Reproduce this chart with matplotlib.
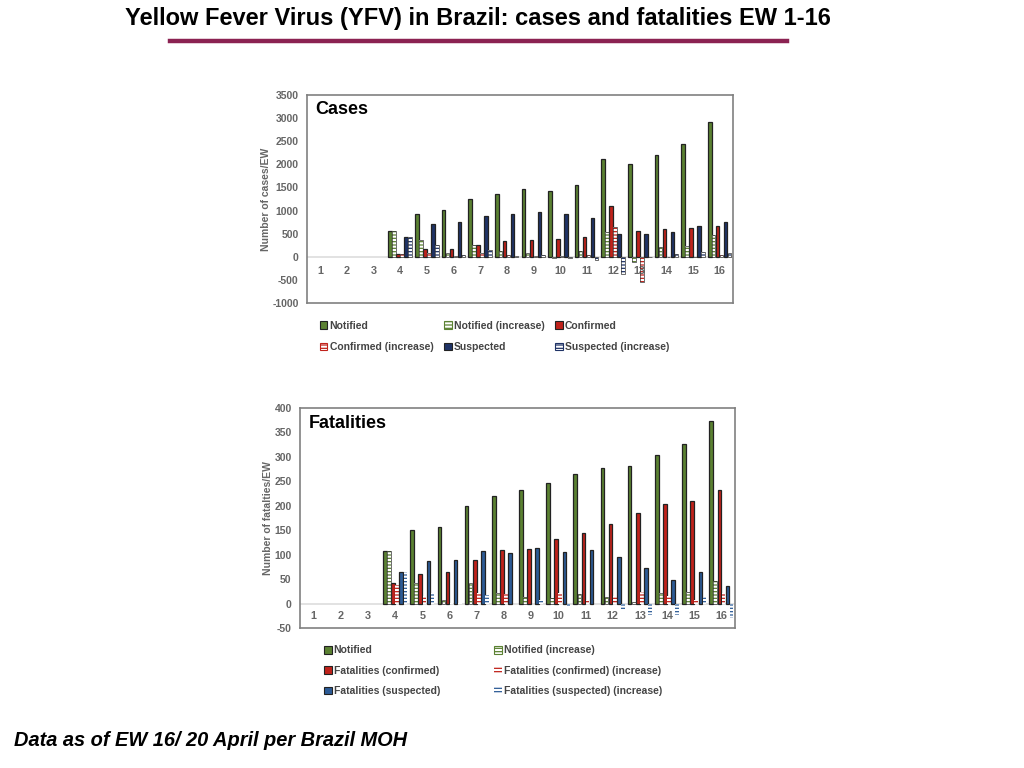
import matplotlib.pyplot as plt
from matplotlib.patches import Patch
import numpy as np

plt.rcParams['font.family'] = ['Liberation Sans', 'DejaVu Sans']
plt.rcParams['axes.unicode_minus'] = False
plt.rcParams['hatch.linewidth'] = 0.9

# Semanas epidemiologicas
weeks = np.arange(1, 17)

# Casos por semana
notified = [0, 0, 0, 560, 915, 1017, 1254, 1368, 1470, 1426, 1550, 2112, 2000, 2206, 2435, 2909]
notified_inc = [0, 0, 0, 560, 363, 75, 248, 118, 75, -30, 130, 540, -110, 222, 230, 478]
confirmed = [0, 0, 0, 68, 162, 176, 262, 334, 363, 375, 431, 1099, 560, 603, 625, 675]
confirmed_inc = [0, 0, 0, 68, 75, 14, 75, 30, 10, 10, 45, 640, -540, 5, 5, 45]
suspected = [0, 0, 0, 435, 715, 750, 873, 916, 958, 927, 847, 489, 489, 539, 662, 755]
suspected_inc = [0, 0, 0, 435, 262, 30, 140, 15, 40, -25, -80, -370, -10, 50, 100, 80]

# Muertes por semana
f_notified = [0, 0, 0, 108, 150, 156, 200, 220, 233, 246, 265, 278, 282, 303, 327, 373]
f_notified_inc = [0, 0, 0, 108, 42, 7, 42, 21, 14, 12, 20, 13, 3, 21, 24, 46]
f_confirmed = [0, 0, 0, 42, 61, 64, 89, 110, 112, 132, 144, 163, 186, 203, 210, 233]
f_confirmed_inc = [0, 0, 0, 37, 16, 2, 22, 20, 0, 21, 7, 15, 23, 15, 7, 22]
f_suspected = [0, 0, 0, 64, 87, 89, 107, 104, 114, 106, 110, 96, 72, 48, 65, 35]
f_suspected_inc = [0, 0, 0, 64, 21, 1, 18, 0, 7, -6, 0, -16, -23, -23, 13, -30]

GREEN = '#5b8132'
RED = '#c0221b'
NAVY = '#1f3366'
BLUE = '#2c5b96'
GRAY = '#666666'

fig = plt.figure(figsize=(10.24, 7.68), dpi=100)

fig.text(0.467, 0.976, 'Yellow Fever Virus (YFV) in Brazil: cases and fatalities EW 1-16',
         ha='center', va='center', fontsize=17, fontweight='bold')
fig.add_artist(plt.Line2D([170 / 1024, 787 / 1024], [1 - 41 / 768, 1 - 41 / 768],
                          color='#8b2252', linewidth=3.2))
fig.text(14 / 1024, 1 - 741 / 768, 'Data as of EW 16/ 20 April per Brazil MOH',
         ha='left', va='center', fontsize=14.4, fontweight='bold', style='italic')

w = 0.135
offsets = (np.arange(6) - 2.5) * 0.15


def draw_bars(ax, series, colors, hatched, framed):
    for i, (vals, col, h, fr) in enumerate(zip(series, colors, hatched, framed)):
        vals = np.asarray(vals, dtype=float)
        keep = vals != 0
        x = (weeks + offsets[i])[keep]
        v = vals[keep]
        if h:
            ax.bar(x, v, w, color='white', edgecolor=col, hatch='-----', linewidth=0, zorder=3)
            if fr:
                ax.bar(x, v, w, fill=False, edgecolor='#333333', linewidth=0.5, zorder=4)
        else:
            ax.bar(x, v, w, color=col, edgecolor='#222222', linewidth=0.9, zorder=3)


def style_axes(ax, ylim, yticks, ylabel, title, label_y):
    ax.set_xlim(0.5, 16.5)
    ax.set_ylim(*ylim)
    ax.set_yticks(yticks)
    ax.set_xticks([])
    ax.tick_params(axis='y', length=0, labelsize=7.5, labelcolor=GRAY, pad=6)
    for lab in ax.get_yticklabels():
        lab.set_fontweight('bold')
    for sp in ax.spines.values():
        sp.set_color('#808080')
        sp.set_linewidth(1.2)
    ax.axhline(0, color='#dddddd', linewidth=1.2, zorder=2)
    ax.set_ylabel(ylabel, fontsize=7.5, fontweight='bold', color=GRAY, labelpad=1)
    ax.text(0.02, 0.93, title, transform=ax.transAxes, fontsize=13, fontweight='bold',
            va='center', ha='left')
    for wk in weeks:
        ax.text(wk, label_y, str(wk), ha='center', va='center', fontsize=7.8,
                fontweight='bold', color=GRAY)


# --- Casos ---
ax1 = fig.add_axes([307 / 1024, 1 - 303 / 768, 426 / 1024, 208 / 768])
draw_bars(ax1,
          [notified, notified_inc, confirmed, confirmed_inc, suspected, suspected_inc],
          [GREEN, GREEN, RED, RED, NAVY, NAVY],
          [False, True, False, True, False, True],
          [True, True, True, True, True, True])
style_axes(ax1, (-1000, 3500), np.arange(-1000, 3501, 500), 'Number of cases/EW', 'Cases', -300)

h_not = Patch(facecolor=GREEN, edgecolor='#222222', linewidth=0.8)
h_not_i = Patch(facecolor='white', edgecolor=GREEN, hatch='-----', linewidth=0.8)
h_conf = Patch(facecolor=RED, edgecolor='#222222', linewidth=0.8)
h_conf_i = Patch(facecolor='white', edgecolor=RED, hatch='-----', linewidth=0.8)
h_susp = Patch(facecolor=NAVY, edgecolor='#222222', linewidth=0.8)
h_susp_i = Patch(facecolor='white', edgecolor=NAVY, hatch='-----', linewidth=0.8)

leg1 = ax1.legend([h_not, h_conf_i, h_not_i, h_susp, h_conf, h_susp_i],
                  ['Notified', 'Confirmed (increase)', 'Notified (increase)', 'Suspected',
                   'Confirmed', 'Suspected (increase)'],
                  ncol=3, loc='upper left', bbox_to_anchor=(0.02, -0.065), frameon=False,
                  fontsize=7.5, handlelength=0.75, handleheight=0.75, handletextpad=0.2,
                  columnspacing=1.0, labelspacing=1.1, borderaxespad=0)
for t in leg1.get_texts():
    t.set_color('#444444')
    t.set_fontweight('bold')

# --- Muertes ---
ax2 = fig.add_axes([300 / 1024, 1 - 628 / 768, 435 / 1024, 220 / 768])
draw_bars(ax2,
          [f_notified, f_notified_inc, f_confirmed, f_confirmed_inc, f_suspected, f_suspected_inc],
          [GREEN, GREEN, RED, RED, BLUE, BLUE],
          [False, True, False, True, False, True],
          [True, True, True, False, True, False])
style_axes(ax2, (-50, 400), np.arange(-50, 401, 50), 'Number of fatalties/EW', 'Fatalities', -26)

g_not = Patch(facecolor=GREEN, edgecolor='#222222', linewidth=0.8)
g_not_i = Patch(facecolor='white', edgecolor=GREEN, hatch='-----', linewidth=0.8)
g_conf = Patch(facecolor=RED, edgecolor='#222222', linewidth=0.8)
g_conf_i = Patch(facecolor='white', edgecolor=RED, hatch='-----', linewidth=0)
g_susp = Patch(facecolor=BLUE, edgecolor='#222222', linewidth=0.8)
g_susp_i = Patch(facecolor='white', edgecolor=BLUE, hatch='-----', linewidth=0)

leg2 = ax2.legend([g_not, g_conf, g_susp, g_not_i, g_conf_i, g_susp_i],
                  ['Notified', 'Fatalities (confirmed)', 'Fatalities (suspected)',
                   'Notified (increase)', 'Fatalities (confirmed) (increase)',
                   'Fatalities (suspected) (increase)'],
                  ncol=2, loc='upper left', bbox_to_anchor=(0.045, -0.06), frameon=False,
                  fontsize=7.5, handlelength=0.75, handleheight=0.75, handletextpad=0.2,
                  columnspacing=5.2, labelspacing=1.0, borderaxespad=0)
for t in leg2.get_texts():
    t.set_color('#444444')
    t.set_fontweight('bold')

fig.savefig('out.png', dpi=100)
